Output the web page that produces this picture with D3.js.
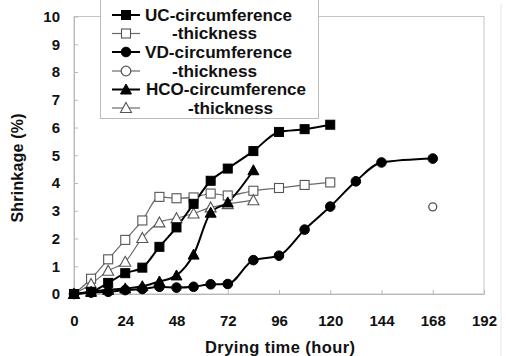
<!DOCTYPE html>
<html><head><meta charset="utf-8">
<script src="https://cdn.jsdelivr.net/npm/d3@7"></script>
<style>body{margin:0;background:#fff}svg{display:block;font-family:"Liberation Sans",Arial,sans-serif;font-weight:bold}</style>
</head><body><svg id="c" width="506" height="356"></svg>
<script>
// ---- data ----
const hoursA = [0, 8, 16, 24, 32, 40, 48, 56, 64, 72, 84, 96, 108, 120];
const ucCirc = [0, 0.08, 0.4, 0.75, 0.95, 1.7, 2.4, 3.25, 4.08, 4.52, 5.15, 5.84, 5.94, 6.1];
const ucThick = [0, 0.55, 1.25, 1.95, 2.65, 3.5, 3.45, 3.48, 3.62, 3.55, 3.72, 3.82, 3.93, 4.02];
const hoursVD = [0, 8, 16, 24, 32, 40, 48, 56, 64, 72, 84, 96, 108, 120, 132, 144, 168];
const vdCirc = [0, 0.05, 0.08, 0.14, 0.18, 0.26, 0.23, 0.26, 0.35, 0.36, 1.22, 1.38, 2.32, 3.15, 4.06, 4.74, 4.88];
const hoursVDt = [168];
const vdThick = [3.14];
const hoursH = [0, 8, 16, 24, 32, 40, 48, 56, 64, 72, 84];
const hcoCirc = [0, 0.08, 0.15, 0.2, 0.28, 0.45, 0.67, 1.42, 2.93, 3.3, 4.46];
const hcoThick = [0, 0.36, 0.84, 1.16, 2.02, 2.58, 2.73, 2.9, 3.12, 3.24, 3.38];
const xTicks = [0, 24, 48, 72, 96, 120, 144, 168, 192];
const yTicks = [0, 1, 2, 3, 4, 5, 6, 7, 8, 9, 10];
const legendLabels = ["UC-circumference", "-thickness", "VD-circumference", "-thickness", "HCO-circumference", "-thickness"];

const series = [
  {x: hoursA, y: ucCirc, sym: "square", filled: true},
  {x: hoursA, y: ucThick, sym: "square", filled: false},
  {x: hoursVD, y: vdCirc, sym: "circle", filled: true},
  {x: hoursVDt, y: vdThick, sym: "circle", filled: false, small: true},
  {x: hoursH, y: hcoCirc, sym: "triangle", filled: true},
  {x: hoursH, y: hcoThick, sym: "triangle", filled: false}
];

const svg = d3.select("#c");
const L = 74, R = 484, T = 16.5, B = 294;
const x = d3.scaleLinear().domain([0, 192]).range([L, R]);
const y = d3.scaleLinear().domain([0, 10]).range([B, T]);

// outer faint border
svg.append("line").attr("x1", 501).attr("x2", 501).attr("y1", 4).attr("y2", 356).attr("stroke", "#e6e6e6");
// plot frame
svg.append("rect").attr("x", L).attr("y", T).attr("width", R - L).attr("height", B - T)
  .attr("fill", "none").attr("stroke", "#c4c4c4").attr("stroke-width", 1);

// axes
const ax = svg.append("g").attr("transform", `translate(0,${B})`)
  .call(d3.axisBottom(x).tickValues(xTicks).tickSizeInner(-4).tickSizeOuter(0).tickPadding(20));
const ay = svg.append("g").attr("transform", `translate(${L},0)`)
  .call(d3.axisLeft(y).tickValues(yTicks).tickSizeInner(-4).tickSizeOuter(0).tickPadding(14));
[ax, ay].forEach(g => {
  g.select(".domain").attr("stroke", "#b8b8b8");
  g.selectAll(".tick line").attr("stroke", "#b8b8b8");
  g.selectAll("text").attr("font-size", 15).attr("font-weight", "bold").attr("fill", "#111")
    .attr("font-family", "Liberation Sans, Arial, sans-serif");
});
ax.selectAll(".tick text").attr("dy", "0.35em").attr("y", 27);

// axis titles
svg.append("text").attr("x", 280).attr("y", 353).attr("text-anchor", "middle")
  .attr("font-size", 16.5).attr("fill", "#111").text("Drying time (hour)").attr("textLength", 150);
svg.append("text").attr("transform", "translate(23,168) rotate(-90)").attr("text-anchor", "middle")
  .attr("font-size", 16).attr("fill", "#111").text("Shrinkage (%)").attr("textLength", 109);

// symbols
function drawSym(g, s, cx, cy) {
  const fill = s.filled ? "#000" : "#fff";
  const stroke = s.filled ? "#000" : "#555";
  if (s.sym === "square") {
    g.append("rect").attr("x", cx - 4.5).attr("y", cy - 4.5).attr("width", 9).attr("height", 9)
      .attr("fill", fill).attr("stroke", stroke).attr("stroke-width", s.filled ? 1 : 1.1);
  } else if (s.sym === "circle") {
    const r = s.small ? 4 : 4.8;
    g.append("circle").attr("cx", cx).attr("cy", cy).attr("r", r)
      .attr("fill", fill).attr("stroke", stroke).attr("stroke-width", s.filled ? 1 : 1.3);
  } else {
    g.append("path").attr("d", `M${cx},${cy - 5.5}L${cx + 5.5},${cy + 4.5}L${cx - 5.5},${cy + 4.5}Z`)
      .attr("fill", fill).attr("stroke", stroke).attr("stroke-width", s.filled ? 1 : 1.1);
  }
}

const lineGen = d3.line().curve(d3.curveMonotoneX);
// draw thickness series first (gray), then circumference (black)
const order = [1, 5, 3, 0, 4, 2];
order.forEach(i => {
  const s = series[i];
  const pts = s.x.map((h, k) => [x(h), y(s.y[k])]);
  if (pts.length > 1) {
    svg.append("path").attr("d", lineGen(pts)).attr("fill", "none")
      .attr("stroke", s.filled ? "#000" : "#6a6a6a").attr("stroke-width", s.filled ? 2 : 1.2);
  }
});
order.forEach(i => {
  const s = series[i];
  const g = svg.append("g");
  s.x.forEach((h, k) => drawSym(g, s, x(h), y(s.y[k])));
});

// legend
const lg = svg.append("g");
lg.append("rect").attr("x", 100.5).attr("y", -5).attr("width", 218).attr("height", 123.5)
  .attr("fill", "#fff").attr("stroke", "#bbb");
const rowY = [15, 33.5, 52, 71, 89.5, 108];
const textX = [145, 172, 145, 172, 146, 188];
const textW = [147, 85, 147, 85, 160, 85];
series.forEach((s, i) => {
  const cy = rowY[i];
  lg.append("line").attr("x1", 112).attr("x2", 140).attr("y1", cy).attr("y2", cy)
    .attr("stroke", s.filled ? "#000" : "#6a6a6a").attr("stroke-width", s.filled ? 2 : 1.2);
  drawSym(lg, Object.assign({}, s, {small: false}), 126, cy);
  lg.append("text").attr("x", textX[i]).attr("y", cy).attr("dy", "0.36em")
    .attr("font-size", 16).attr("fill", "#111").attr("textLength", textW[i])
    .attr("lengthAdjust", "spacingAndGlyphs").text(legendLabels[i]);
});
</script></body></html>
